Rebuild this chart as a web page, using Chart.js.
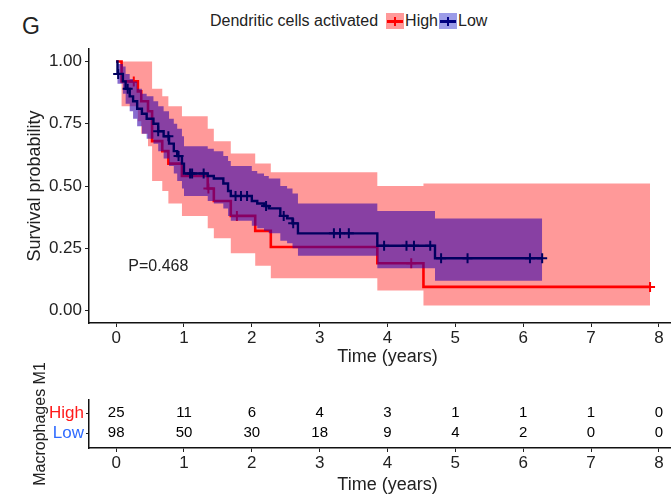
<!DOCTYPE html>
<html>
<head>
<meta charset="utf-8">
<script src="https://cdn.jsdelivr.net/npm/chart.js@4.4.1/dist/chart.umd.min.js"></script>
<style>
  html, body { margin: 0; padding: 0; background: #fff; }
  body { width: 671px; height: 496px; overflow: hidden; position: relative;
         font-family: 'Liberation Sans', Arial, sans-serif; color: #222; }
  #letter { position: absolute; left: 22px; top: 14px; font-size: 23px; line-height: 24px; }
  #legend { position: absolute; left: 210px; top: 11px; height: 19px; font-size: 16px; line-height: 19px;
            display: flex; align-items: center; white-space: nowrap; }
  .key { display: inline-block; position: relative; width: 18px; height: 16px; }
  .key i { position: absolute; left: 1px; right: 1px; top: 7px; height: 3px; }
  .key b { position: absolute; left: 8px; width: 2px; top: 4px; height: 9px; }
  #top { position: absolute; left: 0; top: 0; }
  #table { position: absolute; left: 0; top: 340px; }
</style>
</head>
<body>
<div id="letter">G</div>
<div id="legend">
  <span>Dendritic cells activated</span>
  <span class="key" style="background:#ff9999;margin-left:8px"><i style="background:#ff0000"></i><b style="background:#ff0000"></b></span>
  <span style="margin-left:1px">High</span>
  <span class="key" style="background:#9c9ce8;margin-left:1px"><i style="background:#000080"></i><b style="background:#000080"></b></span>
  <span style="margin-left:1px">Low</span>
</div>
<canvas id="top" width="700" height="370"></canvas>
<canvas id="table" width="700" height="156"></canvas>
<script>
// ---- data ----
const xTicks = [0, 1, 2, 3, 4, 5, 6, 7, 8];
const yTicks = [0, 0.25, 0.5, 0.75, 1];

// High group (red)
const highTime  = [0, 0.08, 0.32, 0.37, 0.47, 0.53, 0.68, 0.77, 0.97, 1.35, 1.44, 1.69, 2.05, 2.28, 3.85, 4.53, 7.87];
const highSurv  = [1, 0.92, 0.88, 0.84, 0.80, 0.68, 0.64, 0.59, 0.54, 0.49, 0.44, 0.38, 0.32, 0.255, 0.19, 0.095, 0.095];
const highUpper = [1, 1, 1, 1, 1, 0.89, 0.86, 0.82, 0.78, 0.73, 0.68, 0.63, 0.59, 0.555, 0.50, 0.51, 0.51];
const highLower = [1, 0.82, 0.76, 0.71, 0.66, 0.52, 0.48, 0.43, 0.38, 0.33, 0.29, 0.23, 0.18, 0.13, 0.08, 0.02, 0.02];
const highCensorTime = [0.26, 1.36, 1.78, 4.35, 7.87];
const highCensorSurv = [0.92, 0.49, 0.38, 0.19, 0.095];

// Low group (navy)
const lowTime  = [0, 0.02, 0.10, 0.14, 0.20, 0.25, 0.31, 0.38, 0.45, 0.55, 0.62, 0.70, 0.78, 0.85, 0.90, 0.97, 1.00,
                  1.35, 1.44, 1.58, 1.65, 1.69, 2.00, 2.08, 2.18, 2.25, 2.42, 2.52, 2.60, 2.68, 3.85, 4.70, 6.28];
const lowSurv  = [1, 0.95, 0.92, 0.89, 0.86, 0.84, 0.81, 0.79, 0.77, 0.75, 0.72, 0.70, 0.67, 0.64, 0.62, 0.59, 0.55,
                  0.54, 0.53, 0.51, 0.48, 0.46, 0.44, 0.43, 0.42, 0.41, 0.38, 0.37, 0.35, 0.31, 0.26, 0.21, 0.21];
const lowUpper = [1, 0.99, 0.98, 0.95, 0.93, 0.92, 0.89, 0.87, 0.86, 0.84, 0.82, 0.80, 0.77, 0.75, 0.73, 0.70, 0.66,
                  0.65, 0.64, 0.62, 0.60, 0.58, 0.56, 0.55, 0.54, 0.53, 0.50, 0.49, 0.47, 0.43, 0.40, 0.37, 0.37];
const lowLower = [1, 0.91, 0.87, 0.83, 0.80, 0.77, 0.74, 0.71, 0.69, 0.67, 0.64, 0.61, 0.58, 0.55, 0.52, 0.49, 0.46,
                  0.44, 0.43, 0.41, 0.38, 0.36, 0.34, 0.33, 0.32, 0.31, 0.28, 0.27, 0.25, 0.22, 0.17, 0.12, 0.12];
const lowCensorTime = [0.03, 0.17, 0.62, 0.77, 0.92, 1.09, 1.12, 1.29, 1.76, 1.84, 1.93, 2.21, 2.47, 2.61,
                       3.21, 3.30, 3.43, 3.95, 4.28, 4.39, 4.63, 4.79, 5.18, 6.10, 6.28];
const lowCensorSurv = [0.95, 0.89, 0.72, 0.70, 0.62, 0.55, 0.55, 0.55, 0.46, 0.46, 0.46, 0.42, 0.38, 0.35,
                       0.31, 0.31, 0.31, 0.26, 0.26, 0.26, 0.26, 0.21, 0.21, 0.21, 0.21];

// number at risk table
const riskTime = [0, 1, 2, 3, 4, 5, 6, 7, 8];
const riskHigh = [25, 11, 6, 4, 3, 1, 1, 1, 0];
const riskLow  = [98, 50, 30, 18, 9, 4, 2, 0, 0];

const pText = 'P=0.468';

// ---- chart setup ----
Chart.defaults.font.family = "'Liberation Sans', Arial, sans-serif";
Chart.defaults.color = '#222';

const RED = '#ff0000', NAVY = '#00005e';
const pts = (xs, ys) => xs.map((x, i) => ({ x: x, y: ys[i] }));

const axisX = (titleBottom) => ({
  type: 'linear', min: -0.4, max: 8.4,
  afterBuildTicks: s => { s.ticks = xTicks.map(v => ({ value: v })); },
  ticks: { font: { size: 17 }, padding: 1, color: '#222', maxRotation: 0 },
  grid: { drawOnChartArea: false, tickLength: 4, color: '#222', lineWidth: 1 },
  border: { color: '#111', width: 1.5 },
  title: { display: true, text: 'Time (years)', font: { size: 18 }, color: '#222', padding: { top: 0, bottom: titleBottom } }
});

const stepLine = (data, color, order, width) => ({
  type: 'line', data: data, order: order, stepped: true, borderColor: color, borderWidth: width,
  pointRadius: 0, fill: false
});
const band = (data, color, order, fill) => ({
  type: 'line', data: data, order: order, stepped: true, borderWidth: 0, pointRadius: 0,
  backgroundColor: color, fill: fill
});
const censor = (data, color, order) => ({
  type: 'scatter', data: data, order: order, pointStyle: 'cross', pointRadius: 5,
  borderColor: color, borderWidth: 2, showLine: false
});

const pLabel = {
  id: 'pLabel',
  afterDatasetsDraw(chart) {
    const { ctx, scales: { x, y } } = chart;
    ctx.save();
    ctx.font = "16px 'Liberation Sans', Arial, sans-serif";
    ctx.fillStyle = '#222';
    ctx.textAlign = 'left';
    ctx.textBaseline = 'middle';
    ctx.fillText(pText, x.getPixelForValue(0.18), y.getPixelForValue(0.175));
    ctx.restore();
  }
};

new Chart(document.getElementById('top'), {
  data: {
    datasets: [
      stepLine(pts(lowTime, lowSurv), NAVY, 0, 2.4),
      censor(pts(lowCensorTime, lowCensorSurv), NAVY, 0),
      band(pts(lowTime, lowUpper), 'rgba(50,0,170,0.58)', 1, '+1'),
      band(pts(lowTime, lowLower), 'transparent', 1, false),
      band(pts(highTime, highUpper), 'rgba(255,0,0,0.4)', 2, '+1'),
      band(pts(highTime, highLower), 'transparent', 2, false),
      stepLine(pts(highTime, highSurv), RED, 4, 2.6),
      censor(pts(highCensorTime, highCensorSurv), RED, 4)
    ]
  },
  options: {
    responsive: false, animation: false, devicePixelRatio: 1,
    layout: { padding: { top: 49, right: 14, left: 0, bottom: 0 } },
    plugins: { legend: { display: false }, tooltip: { enabled: false } },
    scales: {
      x: Object.assign(axisX(2), { afterFit: s => { s.height = 47; } }),
      y: {
        type: 'linear', min: -0.05, max: 1.05,
        afterBuildTicks: s => { s.ticks = yTicks.map(v => ({ value: v })); },
        afterFit: s => { s.width = 89; },
        ticks: { font: { size: 17 }, padding: 3, color: '#222', callback: v => v.toFixed(2) },
        grid: { drawOnChartArea: false, tickLength: 4, color: '#222', lineWidth: 1 },
        border: { color: '#111', width: 1.5 },
        title: { display: true, text: 'Survival probability', font: { size: 18 }, color: '#222', padding: { top: 24, bottom: 0 } }
      }
    }
  },
  plugins: [pLabel]
});

const riskLabels = {
  id: 'riskLabels',
  afterDatasetsDraw(chart) {
    const ctx = chart.ctx;
    ctx.save();
    ctx.font = "15px 'Liberation Sans', Arial, sans-serif";
    ctx.fillStyle = '#000';
    ctx.textAlign = 'center';
    ctx.textBaseline = 'middle';
    chart.data.datasets.forEach((ds, i) => {
      chart.getDatasetMeta(i).data.forEach((el, j) => {
        ctx.fillText(String(ds.counts[j]), el.x, el.y);
      });
    });
    ctx.restore();
  }
};

new Chart(document.getElementById('table'), {
  type: 'scatter',
  data: {
    datasets: [
      { data: riskTime.map(t => ({ x: t, y: 2 })), counts: riskHigh, pointRadius: 0 },
      { data: riskTime.map(t => ({ x: t, y: 1 })), counts: riskLow, pointRadius: 0 }
    ]
  },
  options: {
    responsive: false, animation: false, devicePixelRatio: 1,
    layout: { padding: { top: 60, right: 14, left: 0, bottom: 0 } },
    plugins: { legend: { display: false }, tooltip: { enabled: false } },
    scales: {
      x: Object.assign(axisX(0), { afterFit: s => { s.height = 48; } }),
      y: {
        type: 'linear', min: 0.25, max: 2.65,
        afterBuildTicks: s => { s.ticks = [{ value: 1 }, { value: 2 }]; },
        afterFit: s => { s.width = 89; },
        ticks: {
          font: { size: 17 }, padding: 2,
          callback: v => (v === 2 ? 'High' : 'Low'),
          color: c => (c.tick.value === 2 ? '#ff1a1a' : '#2f6bff')
        },
        grid: { drawOnChartArea: false, tickLength: 3, color: '#222', lineWidth: 1 },
        border: { color: '#111', width: 1.5 },
        title: { display: true, text: 'Macrophages M1', font: { size: 16 }, color: '#222', padding: { top: 31, bottom: 0 } }
      }
    }
  },
  plugins: [riskLabels]
});
</script>
</body>
</html>
